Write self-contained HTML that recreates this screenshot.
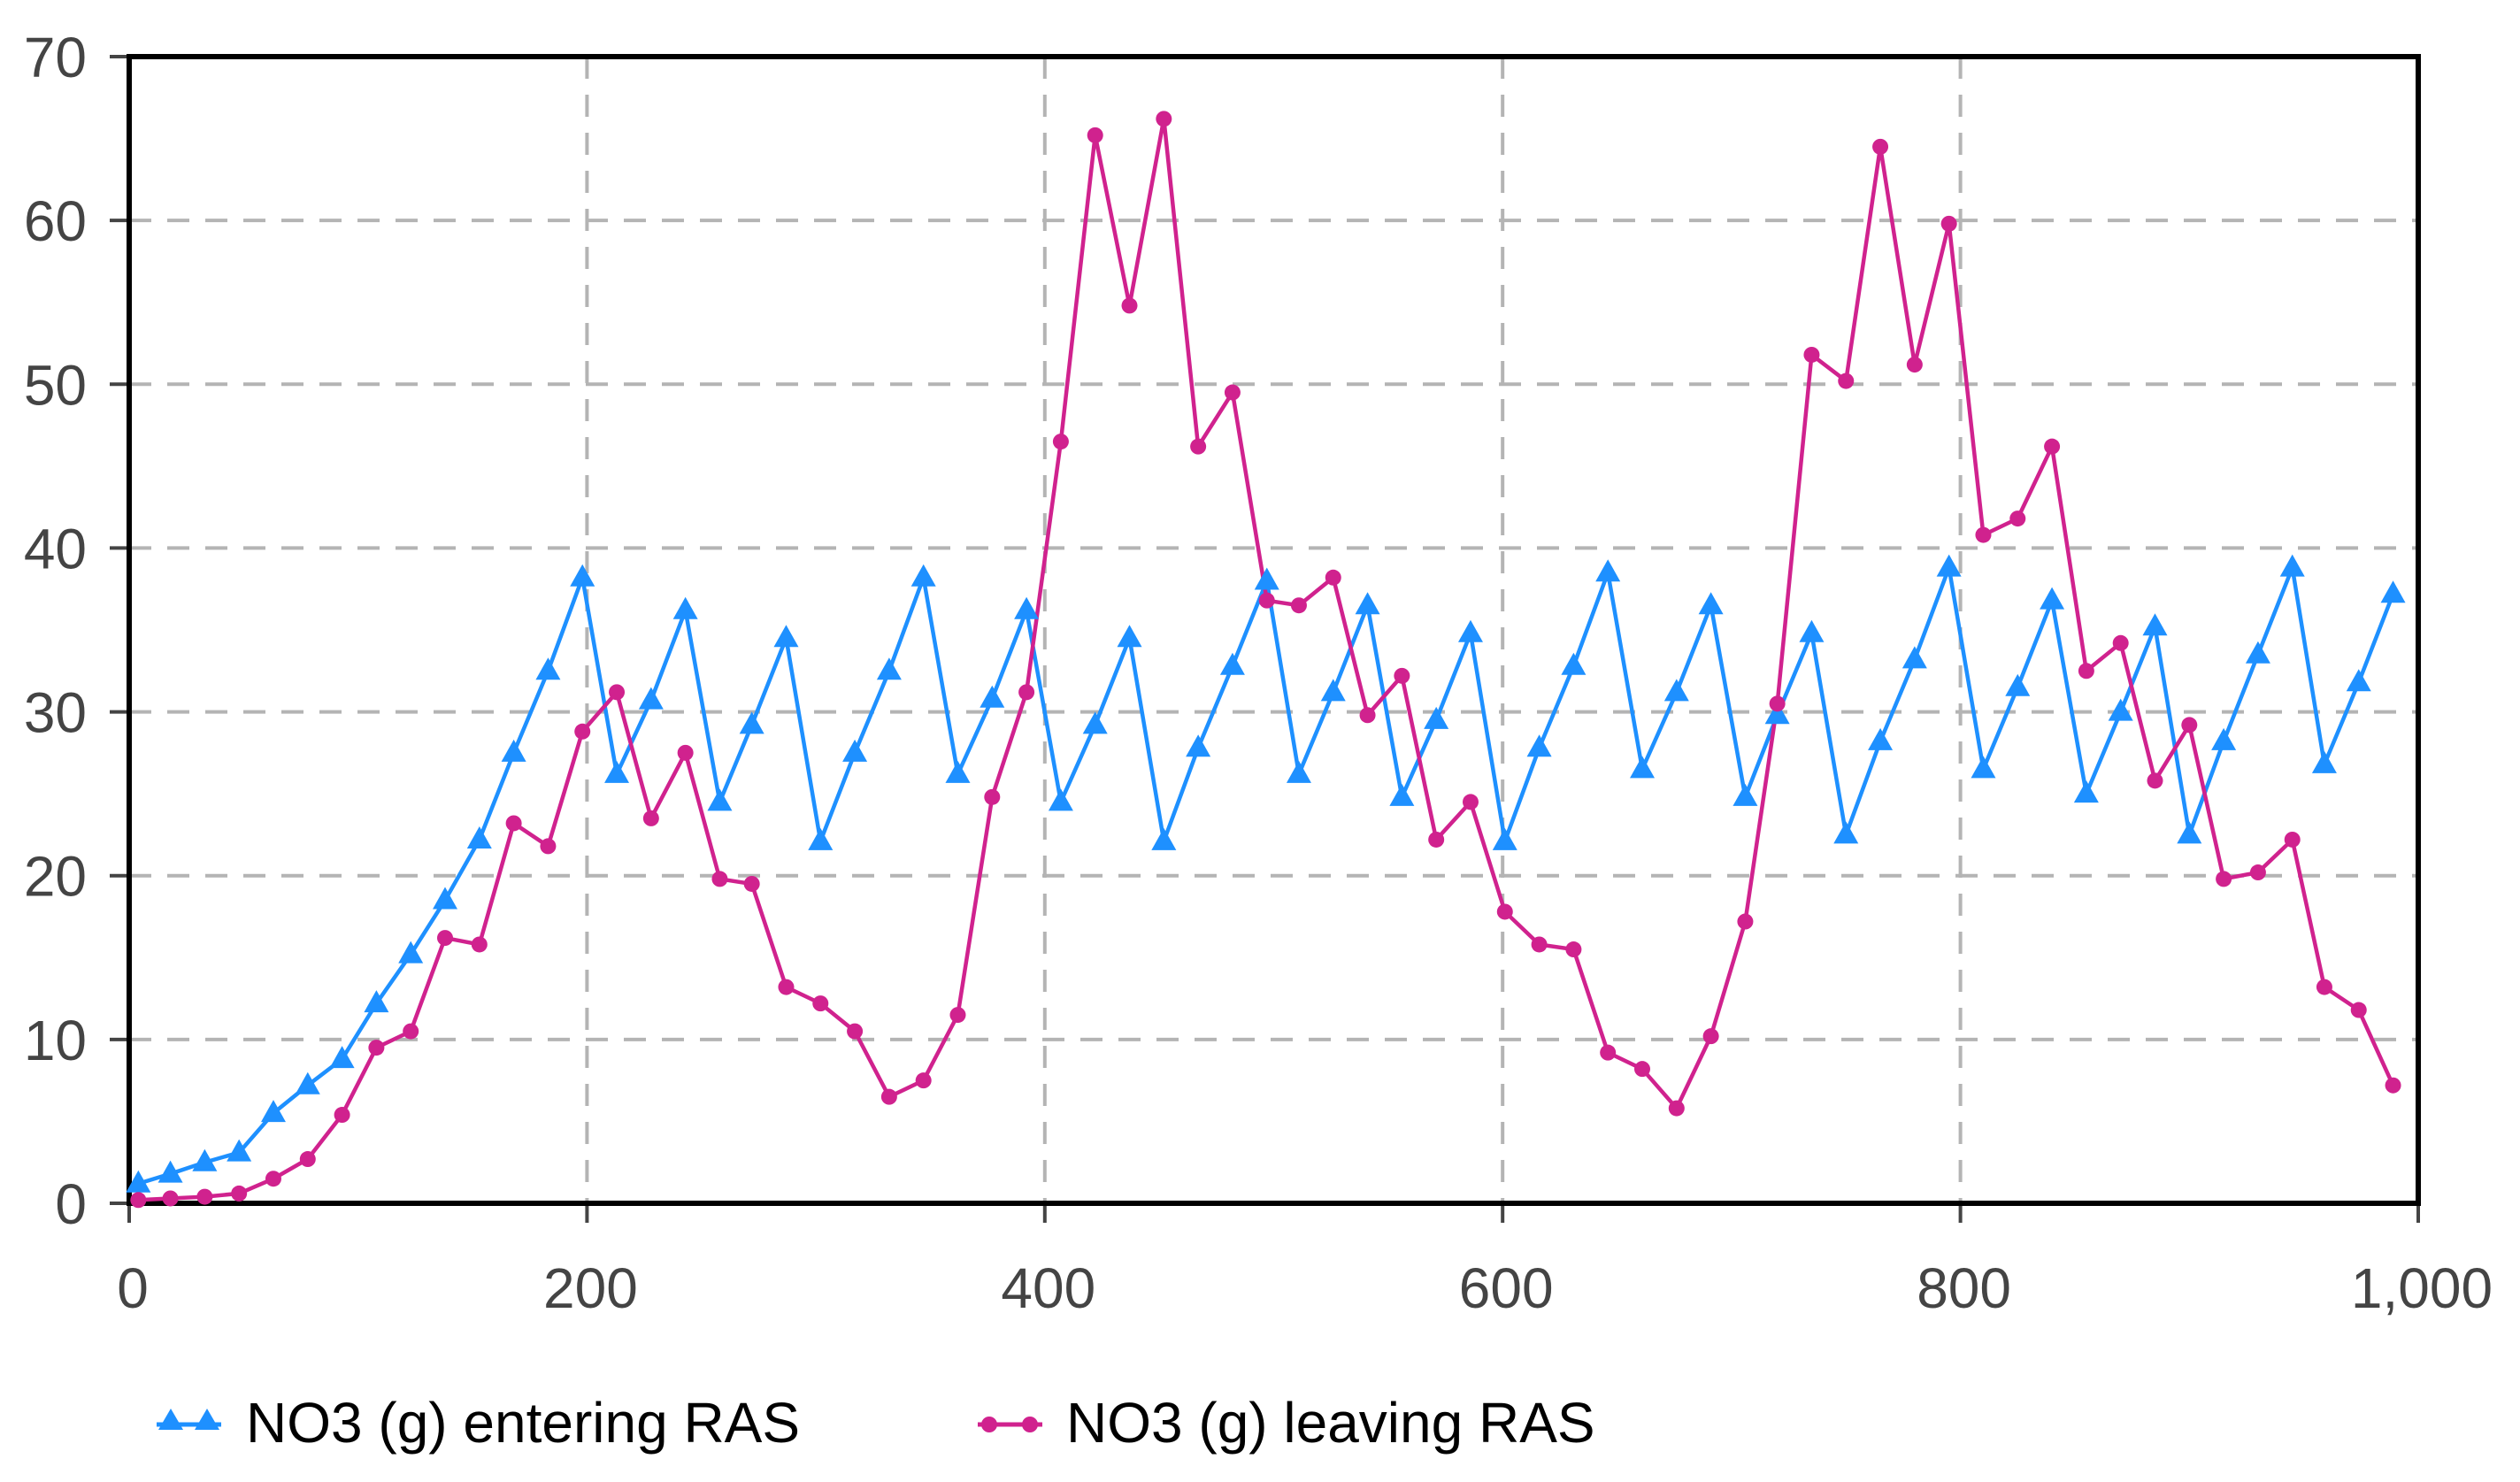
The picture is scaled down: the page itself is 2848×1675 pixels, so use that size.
<!DOCTYPE html>
<html><head><meta charset="utf-8"><style>
html,body{margin:0;padding:0;background:#fff;}
svg{display:block;font-family:"Liberation Sans",sans-serif;}
</style></head><body>
<svg id="chart" width="2848" height="1675" viewBox="0 0 2848 1675" xmlns="http://www.w3.org/2000/svg">
<g id="grid"></g>
<g id="axes"></g>
<g id="series"></g>
<g id="legend">
  <g>
    <line x1="177" y1="1610" x2="250" y2="1610" stroke="#1e90ff" stroke-width="5"/>
    <polygon points="193,1592 207,1616 179,1616" fill="#1e90ff"/>
    <polygon points="234,1592 248,1616 220,1616" fill="#1e90ff"/>
    <text x="278" y="1630" font-size="64" fill="#000">NO3 (g) entering RAS</text>
  </g>
  <g>
    <line x1="1105" y1="1610" x2="1178" y2="1610" stroke="#d0228e" stroke-width="5"/>
    <circle cx="1118" cy="1610" r="9" fill="#d0228e"/>
    <circle cx="1164" cy="1610" r="9" fill="#d0228e"/>
    <text x="1205" y="1630" font-size="64" fill="#000">NO3 (g) leaving RAS</text>
  </g>
</g>
</svg>
<script>
const times = [4,18,33,48,63,78,93,108,123,138,153,168,183,198,213,228,243,258,272,287,302,317,332,347,362,377,392,407,422,437,452,467,482,497,511,526,541,556,571,586,601,616,631,646,661,676,691,706,720,735,750,765,780,795,810,825,840,855,870,885,900,915,930,945,959,974,989];
const entering = [1.2,1.8,2.5,3.1,5.5,7.2,8.8,12.2,15.2,18.5,22.2,27.5,32.5,38.2,26.2,30.7,36.2,24.5,29.2,34.5,22.1,27.5,32.5,38.2,26.2,30.8,36.2,24.5,29.2,34.5,22.1,27.8,32.8,38.0,26.2,31.2,36.5,24.8,29.5,34.8,22.1,27.8,32.8,38.5,26.5,31.2,36.5,24.8,29.8,34.8,22.5,28.2,33.2,38.8,26.5,31.5,36.8,25.0,30.0,35.2,22.5,28.2,33.5,38.8,26.8,31.8,37.2];
const leaving = [0.2,0.3,0.4,0.6,1.5,2.7,5.4,9.5,10.5,16.2,15.8,23.2,21.8,28.8,31.2,23.5,27.5,19.8,19.5,13.2,12.2,10.5,6.5,7.5,11.5,24.8,31.2,46.5,65.2,54.8,66.2,46.2,49.5,36.8,36.5,38.2,29.8,32.2,22.2,24.5,17.8,15.8,15.5,9.2,8.2,5.8,10.2,17.2,30.5,51.8,50.2,64.5,51.2,59.8,40.8,41.8,46.2,32.5,34.2,25.8,29.2,19.8,20.2,22.2,13.2,11.8,7.2];
const xTicks = [0,200,400,600,800,1000];
const xTickLabels = ["0","200","400","600","800","1,000"];
const yTicks = [0,10,20,30,40,50,60,70];

const L=146,R=2733,T=64,B=1360;
const xs=v=>L+(v-0)/1000*(R-L);
const ys=v=>B-(v-0)/70*(B-T);
const NS="http://www.w3.org/2000/svg";
function mk(tag,attrs,parent){const e=document.createElementNS(NS,tag);for(const k in attrs)e.setAttribute(k,attrs[k]);parent.appendChild(e);return e;}
const grid=document.getElementById('grid'),axes=document.getElementById('axes'),series=document.getElementById('series');

yTicks.forEach(v=>{
  if(v>0&&v<70){const g=mk('line',{x1:L,x2:R,y1:ys(v),y2:ys(v),stroke:'#b4b4b4','stroke-width':4,'stroke-dasharray':'25 18'},grid);
  
  }
  const tk=mk('line',{x1:L-22,x2:L,y1:ys(v),y2:ys(v),stroke:'#444','stroke-width':4},axes);
  
  
  const t=mk('text',{x:98,y:ys(v)+23,'text-anchor':'end','font-size':64,fill:'#444'},axes);
  
  
  t.textContent=v;
});
xTicks.forEach((v,i)=>{
  if(v>0&&v<1000){const g=mk('line',{x1:xs(v),x2:xs(v),y1:T,y2:B,stroke:'#b4b4b4','stroke-width':4,'stroke-dasharray':'25 18'},grid);
  
  }
  const tk=mk('line',{x1:xs(v),x2:xs(v),y1:B,y2:B+22,stroke:'#444','stroke-width':4},axes);
  
  
  const t=mk('text',{x:xs(v)+4,y:1478,'text-anchor':'middle','font-size':64,fill:'#444'},axes);
  
  
  t.textContent=xTickLabels[i];
});
const frame=mk('rect',{x:L,y:T,width:R-L,height:B-T,fill:'none',stroke:'#000','stroke-width':6},axes);



function line(vals,color,name){
  const pts=vals.map((v,i)=>xs(times[i])+','+ys(v)).join(' ');
  const p=mk('polyline',{points:pts,fill:'none',stroke:color,'stroke-width':4.5},series);
  
  
}
line(entering,'#1e90ff','entering-line');
line(leaving,'#d0228e','leaving-line');
entering.forEach((v,i)=>{
  const x=xs(times[i]),y=ys(v);
  const m=mk('polygon',{points:`${x},${y-15} ${x+14},${y+10} ${x-14},${y+10}`,fill:'#1e90ff'},series);
  
  
});
leaving.forEach((v,i)=>{
  const m=mk('circle',{cx:xs(times[i]),cy:ys(v),r:9,fill:'#d0228e'},series);
  
  
});
</script>
</body></html>
